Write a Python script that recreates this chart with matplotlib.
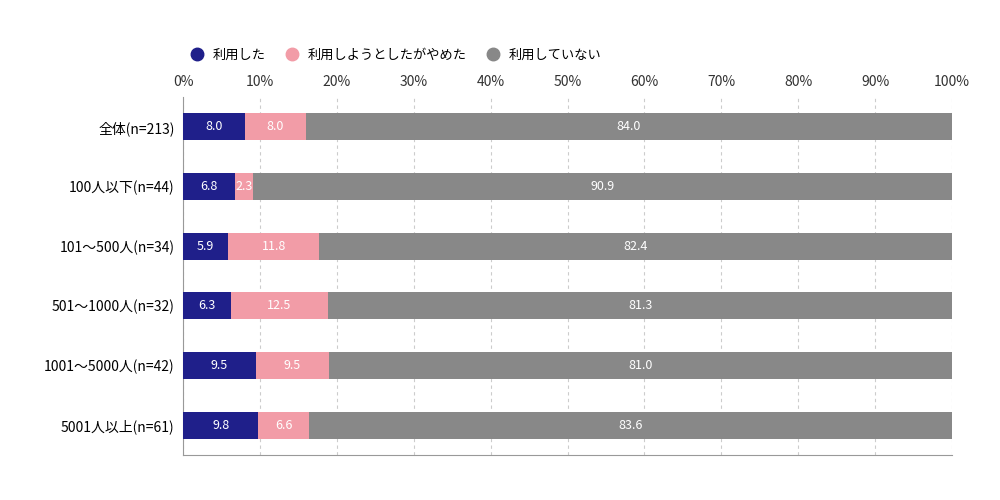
import matplotlib
matplotlib.use("Agg")
import matplotlib.pyplot as plt
import numpy as np

plt.rcParams['font.family'] = ['Noto Sans CJK JP', 'DejaVu Sans']

categories = ["全体(n=213)", "100人以下(n=44)", "101〜500人(n=34)", "501〜1000人(n=32)",
              "1001〜5000人(n=42)", "5001人以上(n=61)"]
series_names = ["利用した", "利用しようとしたがやめた", "利用していない"]
used = [8.0, 6.8, 5.9, 6.3, 9.5, 9.8]
quit_ = [8.0, 2.3, 11.8, 12.5, 9.5, 6.6]
not_used = [84.0, 90.9, 82.4, 81.3, 81.0, 83.6]
colors = ["#1f1f8a", "#f29ca7", "#888888"]
ticks = np.arange(0, 101, 10)
tick_labels = [f"{t}%" for t in ticks]

fig = plt.figure(figsize=(10, 5), dpi=100)
ax = fig.add_axes([0.183, 0.09, 0.769, 0.716])
y = np.arange(len(categories))
left = np.zeros(len(categories))
for name, vals, c in zip(series_names, [used, quit_, not_used], colors):
    bars = ax.barh(y, vals, left=left, height=0.45, color=c, label=name, zorder=3)
    for b, v, l in zip(bars, vals, left):
        ax.text(l + v / 2, b.get_y() + b.get_height() / 2, f"{v:.1f}", ha="center", va="center",
                color="white", fontsize=9, zorder=4)
    left += np.array(vals)

ax.set_xlim(0, 100)
ax.set_ylim(len(categories) - 0.5, -0.5)
ax.set_yticks(y)
ax.set_yticklabels(categories, fontsize=10)
ax.set_xticks(ticks)
ax.set_xticklabels(tick_labels, fontsize=10, color="#333333")
ax.xaxis.tick_top()
ax.tick_params(length=0, pad=6)
ax.grid(axis="x", linestyle=(0, (3, 3)), color="#cccccc", linewidth=0.8, zorder=0)
for s in ["top", "right"]:
    ax.spines[s].set_visible(False)
ax.spines["left"].set_color("#999999")
ax.spines["bottom"].set_color("#999999")

ax.legend(loc="lower left", bbox_to_anchor=(-0.01, 1.06), ncol=3, frameon=False, fontsize=9.5,
          handlelength=1, handleheight=1, handletextpad=0.4, columnspacing=1.2,
          handler_map={}, markerscale=1)
# circular legend markers
from matplotlib.lines import Line2D
handles = [Line2D([], [], marker="o", linestyle="", markersize=9, color=c) for c in colors]
ax.legend(handles, series_names, loc="lower left", bbox_to_anchor=(-0.015, 1.065), ncol=3,
          frameon=False, fontsize=9.5, handletextpad=0.2, columnspacing=1.0)

fig.savefig("out.png", dpi=100)
